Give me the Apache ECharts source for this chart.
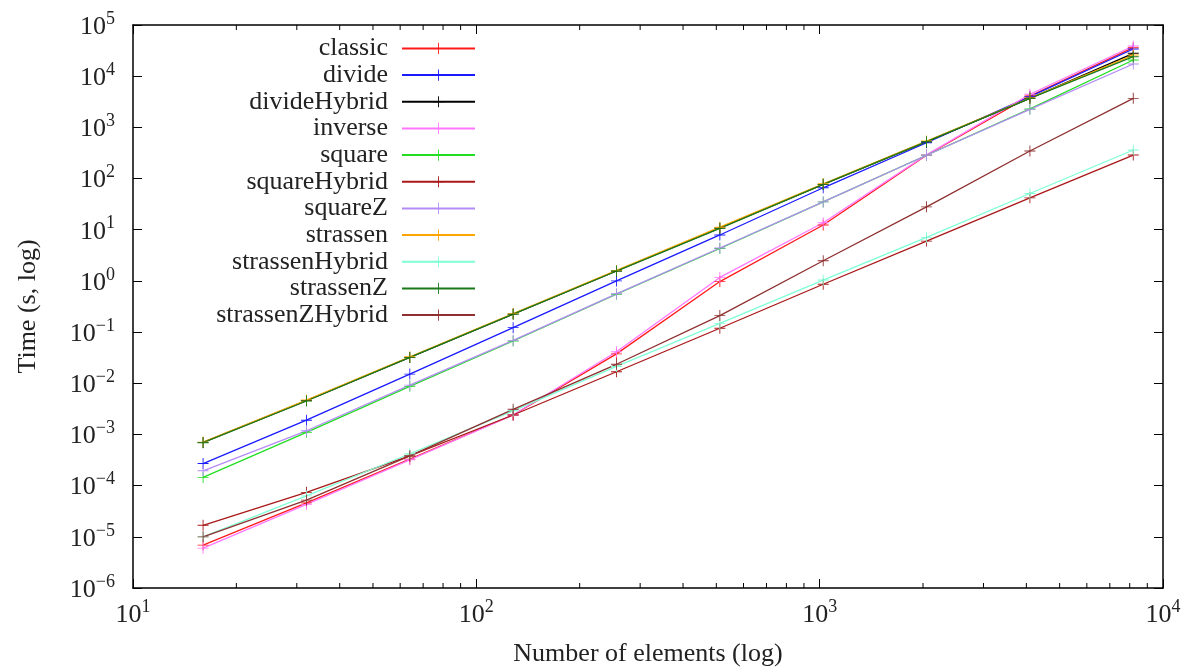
<!DOCTYPE html>
<html>
<head>
<meta charset="utf-8">
<script src="https://cdn.jsdelivr.net/npm/echarts@6/dist/echarts.min.js"></script>
<style>html,body{margin:0;padding:0;background:#fff;}#c{width:1191px;height:668px;}</style>
</head>
<body>
<div id="c"></div>
<script>
// ---- data ----
const sizes = [16, 32, 64, 128, 256, 512, 1024, 2048, 4096, 8192];
const seriesNames = ['classic','divide','divideHybrid','inverse','square','squareHybrid','squareZ','strassen','strassenHybrid','strassenZ','strassenZHybrid'];
const classic         = [6.9e-6, 4.6e-5, 3.3e-4, 2.4e-3, 0.0375, 0.97, 12.4, 285, 4100, 36000];
const divide          = [2.7e-4, 1.9e-3, 0.0151, 0.122, 1.0, 7.9, 66, 500, 3980, 34000];
const divideHybrid    = [7.0e-4, 4.6e-3, 0.032, 0.225, 1.56, 10.8, 77, 525, 3700, 28000];
const inverse         = [6.0e-6, 4.3e-5, 3.2e-4, 2.4e-3, 0.0414, 1.17, 13.7, 290, 4430, 38900];
const square          = [1.45e-4, 1.1e-3, 0.0087, 0.067, 0.55, 4.3, 35, 285, 2290, 20700];
const squareHybrid    = [1.68e-5, 7.4e-5, 3.8e-4, 2.4e-3, 0.0168, 0.119, 0.86, 6.0, 42, 288];
const squareZ         = [1.95e-4, 1.18e-3, 0.0092, 0.069, 0.56, 4.4, 35, 285, 2250, 17300];
const strassen        = [7.1e-4, 4.7e-3, 0.033, 0.23, 1.6, 11.2, 79, 540, 3750, 25900];
const strassenHybrid  = [1.0e-5, 6.3e-5, 4.2e-4, 2.9e-3, 0.0213, 0.148, 1.04, 7.1, 51, 361];
const strassenZ       = [6.9e-4, 4.5e-3, 0.032, 0.225, 1.56, 10.6, 77, 525, 3690, 24000];
const strassenZHybrid = [1.0e-5, 5.2e-5, 3.8e-4, 3.1e-3, 0.0235, 0.21, 2.48, 28, 345, 3690];
const xMinorTicks = [20,30,40,50,60,70,80,90,200,300,400,500,600,700,800,900,2000,3000,4000,5000,6000,7000,8000,9000];
const xRange = [10, 10000];
const yRange = [1e-6, 1e5];
const xTitle = 'Number of elements (log)';
const yTitle = 'Time (s, log)';

// ---- styles ----
const allValues = [classic, divide, divideHybrid, inverse, square, squareHybrid, squareZ, strassen, strassenHybrid, strassenZ, strassenZHybrid];
const colors = ['#ff1a1a','#1a1aff','#000000','#ff77ff','#22dd22','#a81818','#b48cf5','#ffa500','#7fffd4','#1a7a1a','#8e3030'];
const plus = 'path://M0,4.6L10,4.6L10,5.4L0,5.4Z M4.6,0L5.4,0L5.4,10L4.6,10Z';
const FONT = '"Liberation Serif", "DejaVu Serif", serif';

function supLabel(v) {
  const e = Math.round(Math.log10(v));
  const s = e < 0 ? '\u2212' + (-e) : String(e);
  return '{a|10}{s|' + s + '}';
}
const rich = {
  a: {fontFamily: FONT, fontSize: 26, lineHeight: 30, color: '#222', verticalAlign: 'bottom'},
  s: {fontFamily: FONT, fontSize: 18, lineHeight: 18, color: '#222', verticalAlign: 'top'}
};

const lineSeries = seriesNames.map((n, i) => ({
  name: n,
  type: 'line',
  data: sizes.map((x, k) => [x, allValues[i][k]]),
  symbol: plus,
  symbolSize: 11,
  showAllSymbol: true,
  color: colors[i],
  lineStyle: {width: 1.3, color: colors[i]},
  itemStyle: {color: colors[i]},
  emphasis: {disabled: true},
  animation: false,
  z: 3
}));

const minorSeries = {
  type: 'custom',
  data: xMinorTicks.map(v => [v, yRange[0]]),
  silent: true,
  animation: false,
  z: 4,
  renderItem: function (params, api) {
    const cs = params.coordSys;
    const x = api.coord([api.value(0), yRange[0]])[0];
    const b = cs.y + cs.height, t = cs.y;
    return {
      type: 'group',
      children: [
        {type: 'line', shape: {x1: x, y1: b, x2: x, y2: b - 5}, style: {stroke: '#000', lineWidth: 1}},
        {type: 'line', shape: {x1: x, y1: t, x2: x, y2: t + 5}, style: {stroke: '#000', lineWidth: 1}}
      ]
    };
  }
};

const axisLine = {show: true, lineStyle: {color: '#000', width: 1.5}};
const tick = {show: true, inside: true, length: 9, lineStyle: {color: '#000', width: 1}};
const option = {
  backgroundColor: '#fff',
  animation: false,
  grid: {left: 133, right: 28, top: 25, bottom: 80, containLabel: false, outerBoundsMode: 'none'},
  legend: {
    orient: 'vertical',
    left: 150,
    top: 30.4,
    align: 'right',
    itemWidth: 73,
    itemHeight: 14,
    itemGap: 0.67,
    selectedMode: false,
    data: seriesNames,
    textStyle: {fontFamily: FONT, fontSize: 26, lineHeight: 26, color: '#222', width: 233, align: 'right', padding: [0, 9, 0, 0]}
  },
  xAxis: [
    {
      type: 'log', logBase: 10, min: xRange[0], max: xRange[1], position: 'bottom',
      interval: 1, splitNumber: 3,
      name: xTitle, nameLocation: 'middle', nameGap: 53,
      nameTextStyle: {fontFamily: FONT, fontSize: 26, color: '#222'},
      axisLine: axisLine, axisTick: tick,
      axisLabel: {formatter: supLabel, rich: rich, margin: 10},
      splitLine: {show: false}
    },
    {
      type: 'log', logBase: 10, min: xRange[0], max: xRange[1], position: 'top',
      interval: 1, splitNumber: 3,
      axisLine: axisLine, axisTick: tick,
      axisLabel: {show: false},
      splitLine: {show: false}
    }
  ],
  yAxis: [
    {
      type: 'log', logBase: 10, min: yRange[0], max: yRange[1], position: 'left',
      interval: 1, splitNumber: 11,
      name: yTitle, nameLocation: 'middle', nameGap: 92, nameRotate: 90,
      nameTextStyle: {fontFamily: FONT, fontSize: 26, color: '#222'},
      axisLine: axisLine, axisTick: tick,
      axisLabel: {formatter: supLabel, rich: rich, margin: 18},
      splitLine: {show: false}
    },
    {
      type: 'log', logBase: 10, min: yRange[0], max: yRange[1], position: 'right',
      interval: 1, splitNumber: 11,
      axisLine: axisLine, axisTick: tick,
      axisLabel: {show: false},
      splitLine: {show: false}
    }
  ],
  series: lineSeries.concat([minorSeries])
};

const chart = echarts.init(document.getElementById('c'), null, {renderer: 'canvas'});
chart.setOption(option);
</script>
</body>
</html>
